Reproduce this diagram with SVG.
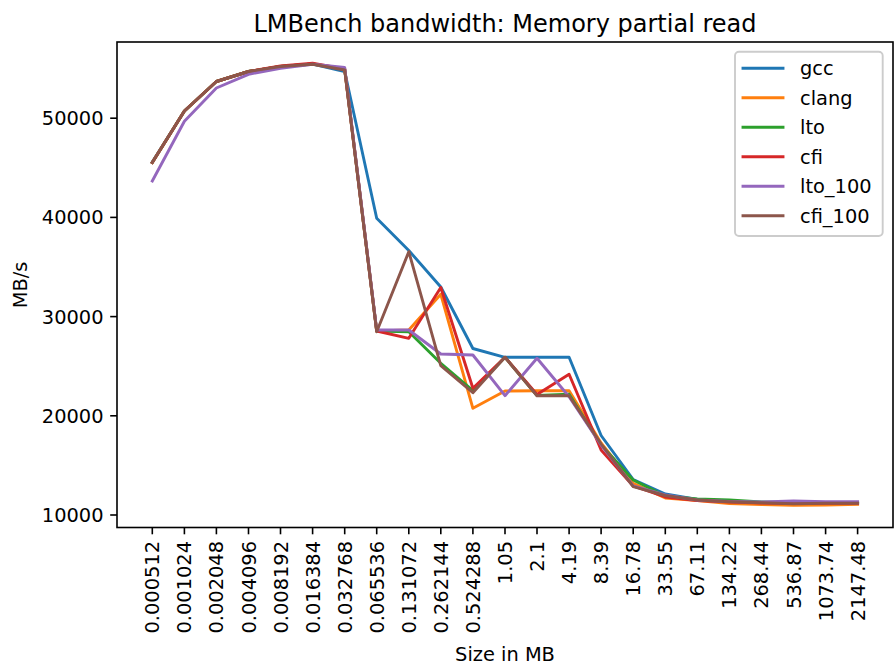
<svg xmlns="http://www.w3.org/2000/svg" width="894" height="668" viewBox="0 0 894 668">
  <style>
    text { font-family: "DejaVu Sans", "Liberation Sans", sans-serif; fill: #000000; }
    .tick { font-size: 19.4px; }
    .label { font-size: 19.4px; }
    .title { font-size: 24px; }
    .legend { font-size: 19.4px; }
    .spine { fill: none; stroke: #000000; stroke-width: 1.6; stroke-linecap: square; }
    .tk { stroke: #000000; stroke-width: 1.6; }
    .series { fill: none; stroke-width: 2.9; stroke-linejoin: round; stroke-linecap: square; }
    .gcc { stroke: #1f77b4; }
    .clang { stroke: #ff7f0e; }
    .lto { stroke: #2ca02c; }
    .cfi { stroke: #d62728; }
    .lto100 { stroke: #9467bd; }
    .cfi100 { stroke: #8c564b; }
  </style>

  <rect x="0" y="0" width="894" height="668" fill="#ffffff"/>

  <!-- title -->
  <text class="title" x="505" y="31.5" text-anchor="middle">LMBench bandwidth: Memory partial read</text>

  <!-- data series -->
  <g id="connectors">
    <polyline id="series-gcc" class="series gcc" points="152.3,162 184.4,111 216.4,81.5 248.5,71.5 280.5,66.5 312.6,64 344.7,71.5 376.7,218.3 408.8,250.5 440.8,287 472.9,348.5 505,357.3 537,357.3 569.1,357.3 601.1,435.5 633.2,479.5 665.3,494 697.3,499.5 729.4,501.5 761.4,502.5 793.5,503 825.6,503 857.6,503"/>
    <polyline id="series-clang" class="series clang" points="152.3,162.5 184.4,111 216.4,81.5 248.5,71.5 280.5,66.5 312.6,64 344.7,69 376.7,331 408.8,330 440.8,294.3 472.9,408.3 505,391 537,390.7 569.1,390.7 601.1,443 633.2,483.3 665.3,498 697.3,500.5 729.4,503.5 761.4,504.5 793.5,505.3 825.6,505 857.6,504.3"/>
    <polyline id="series-lto" class="series lto" points="152.3,162.5 184.4,111 216.4,81.5 248.5,71.5 280.5,66.5 312.6,64 344.7,69 376.7,331 408.8,331.7 440.8,363.3 472.9,390.7 505,357.3 537,395.5 569.1,394.3 601.1,445 633.2,480 665.3,496 697.3,499 729.4,500 761.4,502 793.5,502.5 825.6,502.5 857.6,502.5"/>
    <polyline id="series-cfi" class="series cfi" points="152.3,162.5 184.4,111 216.4,81.5 248.5,71.5 280.5,66 312.6,63.3 344.7,69 376.7,331 408.8,338.3 440.8,287.5 472.9,388.3 505,357.3 537,394.5 569.1,374.3 601.1,450 633.2,486 665.3,497 697.3,500.5 729.4,502 761.4,503 793.5,503.5 825.6,503.3 857.6,503.3"/>
    <polyline id="series-lto_100" class="series lto100" points="152.3,181 184.4,121.3 216.4,88 248.5,74.3 280.5,68.3 312.6,64.3 344.7,67.5 376.7,330 408.8,330 440.8,354 472.9,355 505,395.7 537,358.3 569.1,396.7 601.1,445 633.2,486 665.3,495 697.3,500 729.4,501.5 761.4,502 793.5,501 825.6,501.7 857.6,501.7"/>
    <polyline id="series-cfi_100" class="series cfi100" points="152.3,162.5 184.4,111 216.4,81.5 248.5,71.5 280.5,66.5 312.6,64.3 344.7,70 376.7,331.7 408.8,251.7 440.8,365.7 472.9,392.7 505,357.3 537,395.7 569.1,395.7 601.1,444 633.2,486.7 665.3,495.5 697.3,500 729.4,501.7 761.4,502.7 793.5,503.7 825.6,503.3 857.6,503.3"/>
  </g>

  <!-- axes frame -->
  <rect class="spine" x="117" y="42" width="776" height="485.5"/>

  <!-- y axis -->
  <g id="y-axis">
    <line class="tk" x1="110.2" y1="515" x2="117" y2="515"/>
    <line class="tk" x1="110.2" y1="415.8" x2="117" y2="415.8"/>
    <line class="tk" x1="110.2" y1="316.6" x2="117" y2="316.6"/>
    <line class="tk" x1="110.2" y1="217.4" x2="117" y2="217.4"/>
    <line class="tk" x1="110.2" y1="118.2" x2="117" y2="118.2"/>
    <text class="tick" x="103.5" y="522" text-anchor="end">10000</text>
    <text class="tick" x="103.5" y="422.8" text-anchor="end">20000</text>
    <text class="tick" x="103.5" y="323.6" text-anchor="end">30000</text>
    <text class="tick" x="103.5" y="224.4" text-anchor="end">40000</text>
    <text class="tick" x="103.5" y="125.2" text-anchor="end">50000</text>
    <text class="label" transform="translate(26.5,285) rotate(-90)" text-anchor="middle">MB/s</text>
  </g>

  <!-- x axis -->
  <g id="x-axis">
    <g>
      <line class="tk" x1="152.3" y1="527.5" x2="152.3" y2="534.3"/>
      <line class="tk" x1="184.4" y1="527.5" x2="184.4" y2="534.3"/>
      <line class="tk" x1="216.4" y1="527.5" x2="216.4" y2="534.3"/>
      <line class="tk" x1="248.5" y1="527.5" x2="248.5" y2="534.3"/>
      <line class="tk" x1="280.5" y1="527.5" x2="280.5" y2="534.3"/>
      <line class="tk" x1="312.6" y1="527.5" x2="312.6" y2="534.3"/>
      <line class="tk" x1="344.7" y1="527.5" x2="344.7" y2="534.3"/>
      <line class="tk" x1="376.7" y1="527.5" x2="376.7" y2="534.3"/>
      <line class="tk" x1="408.8" y1="527.5" x2="408.8" y2="534.3"/>
      <line class="tk" x1="440.8" y1="527.5" x2="440.8" y2="534.3"/>
      <line class="tk" x1="472.9" y1="527.5" x2="472.9" y2="534.3"/>
      <line class="tk" x1="505" y1="527.5" x2="505" y2="534.3"/>
      <line class="tk" x1="537" y1="527.5" x2="537" y2="534.3"/>
      <line class="tk" x1="569.1" y1="527.5" x2="569.1" y2="534.3"/>
      <line class="tk" x1="601.1" y1="527.5" x2="601.1" y2="534.3"/>
      <line class="tk" x1="633.2" y1="527.5" x2="633.2" y2="534.3"/>
      <line class="tk" x1="665.3" y1="527.5" x2="665.3" y2="534.3"/>
      <line class="tk" x1="697.3" y1="527.5" x2="697.3" y2="534.3"/>
      <line class="tk" x1="729.4" y1="527.5" x2="729.4" y2="534.3"/>
      <line class="tk" x1="761.4" y1="527.5" x2="761.4" y2="534.3"/>
      <line class="tk" x1="793.5" y1="527.5" x2="793.5" y2="534.3"/>
      <line class="tk" x1="825.6" y1="527.5" x2="825.6" y2="534.3"/>
      <line class="tk" x1="857.6" y1="527.5" x2="857.6" y2="534.3"/>
    </g>
    <g text-anchor="end">
      <text class="tick" transform="translate(159.3,541) rotate(-90)">0.000512</text>
      <text class="tick" transform="translate(191.4,541) rotate(-90)">0.001024</text>
      <text class="tick" transform="translate(223.4,541) rotate(-90)">0.002048</text>
      <text class="tick" transform="translate(255.5,541) rotate(-90)">0.004096</text>
      <text class="tick" transform="translate(287.5,541) rotate(-90)">0.008192</text>
      <text class="tick" transform="translate(319.6,541) rotate(-90)">0.016384</text>
      <text class="tick" transform="translate(351.7,541) rotate(-90)">0.032768</text>
      <text class="tick" transform="translate(383.7,541) rotate(-90)">0.065536</text>
      <text class="tick" transform="translate(415.8,541) rotate(-90)">0.131072</text>
      <text class="tick" transform="translate(447.8,541) rotate(-90)">0.262144</text>
      <text class="tick" transform="translate(479.9,541) rotate(-90)">0.524288</text>
      <text class="tick" transform="translate(512,541) rotate(-90)">1.05</text>
      <text class="tick" transform="translate(544,541) rotate(-90)">2.1</text>
      <text class="tick" transform="translate(576.1,541) rotate(-90)">4.19</text>
      <text class="tick" transform="translate(608.1,541) rotate(-90)">8.39</text>
      <text class="tick" transform="translate(640.2,541) rotate(-90)">16.78</text>
      <text class="tick" transform="translate(672.3,541) rotate(-90)">33.55</text>
      <text class="tick" transform="translate(704.3,541) rotate(-90)">67.11</text>
      <text class="tick" transform="translate(736.4,541) rotate(-90)">134.22</text>
      <text class="tick" transform="translate(768.4,541) rotate(-90)">268.44</text>
      <text class="tick" transform="translate(800.5,541) rotate(-90)">536.87</text>
      <text class="tick" transform="translate(832.6,541) rotate(-90)">1073.74</text>
      <text class="tick" transform="translate(864.6,541) rotate(-90)">2147.48</text>
    </g>
    <text class="label" x="505" y="661" text-anchor="middle">Size in MB</text>
  </g>

  <!-- legend -->
  <g id="legend">
    <rect x="735" y="51.7" width="147.7" height="184.3" rx="4" ry="4" fill="#ffffff" fill-opacity="0.8" stroke="#cccccc" stroke-width="1.9"/>
    <g id="legend-gcc">
      <line class="series gcc" x1="743" y1="68.3" x2="783" y2="68.3" stroke-linecap="butt"/>
      <text class="legend" x="800" y="75.3">gcc</text>
    </g>
    <g id="legend-clang">
      <line class="series clang" x1="743" y1="97.8" x2="783" y2="97.8" stroke-linecap="butt"/>
      <text class="legend" x="800" y="104.8">clang</text>
    </g>
    <g id="legend-lto">
      <line class="series lto" x1="743" y1="127.3" x2="783" y2="127.3" stroke-linecap="butt"/>
      <text class="legend" x="800" y="134.3">lto</text>
    </g>
    <g id="legend-cfi">
      <line class="series cfi" x1="743" y1="156.8" x2="783" y2="156.8" stroke-linecap="butt"/>
      <text class="legend" x="800" y="163.8">cfi</text>
    </g>
    <g id="legend-lto_100">
      <line class="series lto100" x1="743" y1="186.3" x2="783" y2="186.3" stroke-linecap="butt"/>
      <text class="legend" x="800" y="193.3">lto_100</text>
    </g>
    <g id="legend-cfi_100">
      <line class="series cfi100" x1="743" y1="215.8" x2="783" y2="215.8" stroke-linecap="butt"/>
      <text class="legend" x="800" y="222.8">cfi_100</text>
    </g>
  </g>
</svg>
